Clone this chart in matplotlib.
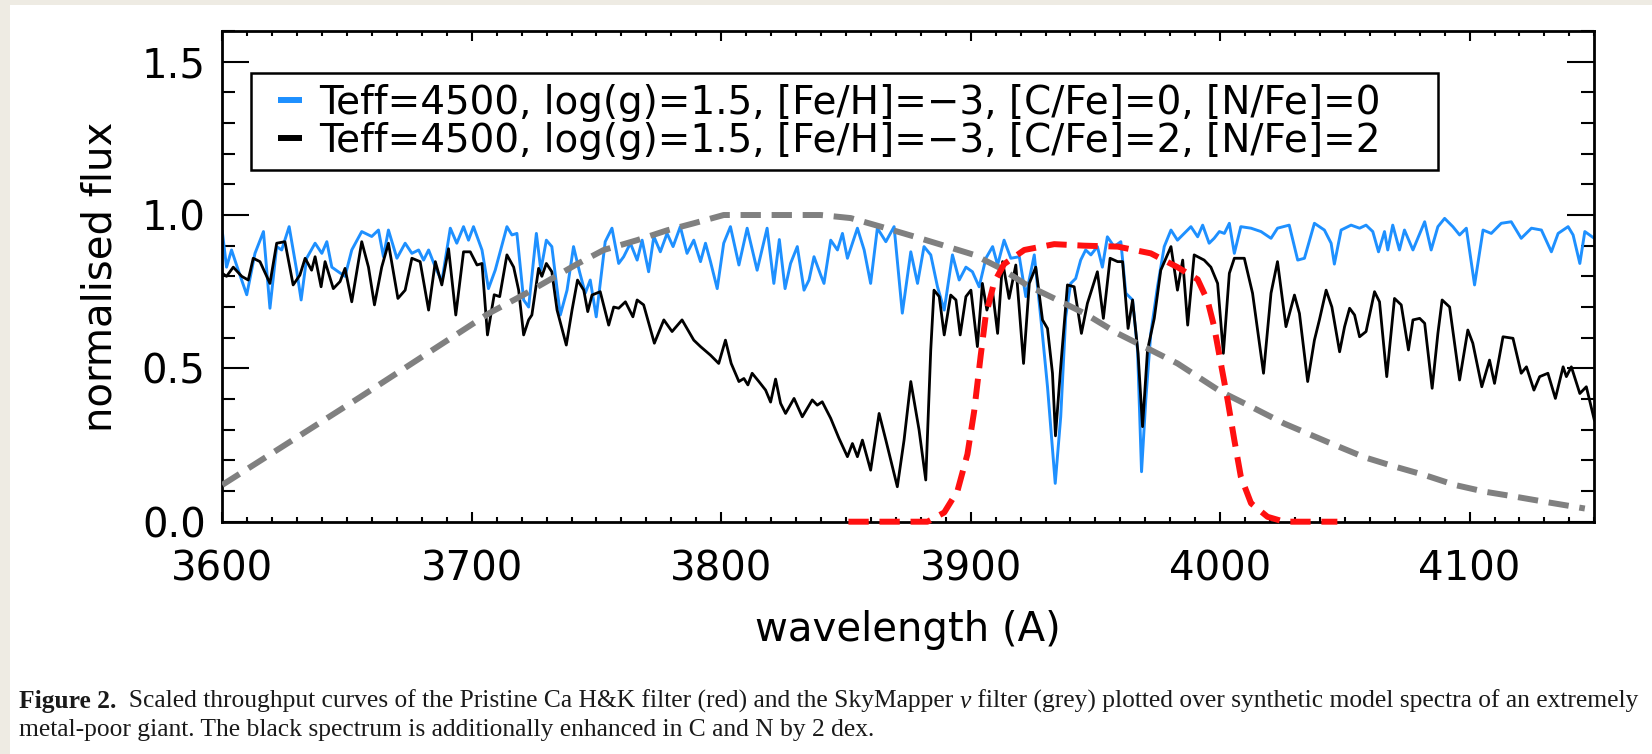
import matplotlib
matplotlib.use("Agg")
import matplotlib.pyplot as plt
from matplotlib.lines import Line2D
from matplotlib.patches import Rectangle
from matplotlib.ticker import MultipleLocator, FormatStrFormatter

# synthetic spectra: wavelength (A) and normalised flux
# blue: [C/Fe]=0, [N/Fe]=0
blue_wave = [3600.0, 3601.7, 3603.7, 3606.4, 3609.8, 3613.1, 3616.5, 3619.1, 3621.8, 3623.8,
             3626.8, 3629.8, 3631.6, 3633.8, 3637.2, 3639.9, 3641.9, 3643.9, 3646.5, 3649.2,
             3651.9, 3655.9, 3659.9, 3662.6, 3664.6, 3666.6, 3670.0, 3673.3, 3676.0, 3678.7,
             3680.7, 3682.7, 3685.4, 3688.0, 3691.4, 3694.0, 3696.7, 3698.7, 3700.7, 3704.1,
             3706.7, 3709.4, 3714.1, 3716.1, 3718.1, 3720.8, 3722.8, 3725.9, 3727.7, 3729.9,
             3732.1, 3735.5, 3738.2, 3740.8, 3743.2, 3745.5, 3747.5, 3749.9, 3751.5, 3753.5,
             3756.2, 3758.9, 3760.9, 3763.6, 3766.3, 3768.3, 3770.9, 3773.0, 3775.6, 3778.3,
             3780.7, 3783.6, 3786.3, 3789.0, 3791.7, 3793.7, 3795.7, 3798.4, 3801.0, 3803.7,
             3807.1, 3810.4, 3814.4, 3818.4, 3821.1, 3823.3, 3825.6, 3827.8, 3830.5, 3833.2,
             3835.2, 3837.2, 3839.9, 3841.2, 3843.9, 3846.6, 3848.6, 3850.6, 3854.6, 3857.3,
             3859.9, 3862.6, 3866.0, 3869.3, 3872.6, 3876.0, 3878.7, 3881.3, 3884.0, 3886.7,
             3889.4, 3892.7, 3895.4, 3898.1, 3900.7, 3903.4, 3906.1, 3908.8, 3910.8, 3913.4,
             3916.1, 3919.5, 3922.1, 3925.5, 3928.2, 3930.8, 3932.8, 3933.9, 3936.1, 3938.1,
             3940.1, 3942.1, 3944.1, 3946.1, 3948.2, 3950.8, 3952.8, 3954.8, 3957.5, 3960.2,
             3962.2, 3964.9, 3966.9, 3968.5, 3970.2, 3972.2, 3974.9, 3977.6, 3980.3, 3982.9,
             3985.6, 3988.3, 3991.0, 3993.0, 3995.6, 3997.6, 3999.7, 4001.7, 4003.7, 4005.7,
             4008.3, 4012.4, 4016.4, 4020.4, 4023.0, 4027.7, 4031.1, 4033.8, 4037.8, 4041.8,
             4044.5, 4045.8, 4048.5, 4052.5, 4055.9, 4058.5, 4061.2, 4063.5, 4065.9, 4067.2,
             4069.2, 4071.9, 4073.9, 4077.3, 4082.0, 4084.6, 4087.3, 4090.0, 4093.3, 4096.0,
             4098.7, 4102.0, 4105.4, 4108.7, 4112.7, 4116.7, 4120.7, 4124.8, 4128.8, 4132.8,
             4135.5, 4139.5, 4141.5, 4144.2, 4146.2, 4150.0]
blue_flux = [0.946, 0.83, 0.886, 0.82, 0.74, 0.875, 0.946, 0.696, 0.897, 0.886,
             0.962, 0.82, 0.723, 0.859, 0.908, 0.875, 0.913, 0.83, 0.815, 0.80,
             0.886, 0.946, 0.93, 0.951, 0.864, 0.951, 0.859, 0.908, 0.875, 0.886,
             0.853, 0.886, 0.83, 0.783, 0.957, 0.908, 0.962, 0.918, 0.962, 0.886,
             0.76, 0.82, 0.962, 0.935, 0.94, 0.723, 0.70, 0.94, 0.82, 0.918,
             0.897, 0.674, 0.755, 0.897, 0.815, 0.745, 0.788, 0.668, 0.777, 0.913,
             0.957, 0.842, 0.864, 0.908, 0.853, 0.918, 0.815, 0.93, 0.88, 0.94,
             0.897, 0.962, 0.875, 0.918, 0.848, 0.908, 0.848, 0.76, 0.908, 0.962,
             0.837, 0.957, 0.82, 0.957, 0.777, 0.92, 0.76, 0.842, 0.897, 0.755,
             0.788, 0.864, 0.804, 0.777, 0.918, 0.886, 0.94, 0.859, 0.957, 0.886,
             0.777, 0.957, 0.913, 0.962, 0.68, 0.88, 0.777, 0.897, 0.87, 0.766,
             0.69, 0.87, 0.788, 0.83, 0.815, 0.766, 0.859, 0.897, 0.837, 0.918,
             0.859, 0.864, 0.734, 0.87, 0.658, 0.44, 0.234, 0.125, 0.342, 0.668,
             0.777, 0.793, 0.853, 0.886, 0.87, 0.897, 0.83, 0.929, 0.897, 0.913,
             0.745, 0.723, 0.56, 0.163, 0.397, 0.614, 0.766, 0.897, 0.951, 0.918,
             0.94, 0.962, 0.929, 0.967, 0.908, 0.924, 0.946, 0.94, 0.973, 0.875,
             0.962, 0.957, 0.946, 0.924, 0.957, 0.967, 0.853, 0.859, 0.973, 0.951,
             0.908, 0.84, 0.951, 0.967, 0.957, 0.967, 0.946, 0.88, 0.946, 0.886,
             0.967, 0.886, 0.951, 0.886, 0.978, 0.886, 0.962, 0.989, 0.962, 0.935,
             0.957, 0.772, 0.951, 0.94, 0.973, 0.978, 0.924, 0.957, 0.951, 0.88,
             0.94, 0.962, 0.935, 0.842, 0.946, 0.924]

# black: [C/Fe]=2, [N/Fe]=2
black_wave = [3600.0, 3601.7, 3604.4, 3607.8, 3610.4, 3612.4, 3615.1, 3619.1, 3621.8, 3625.1,
              3628.4, 3631.1, 3633.2, 3635.8, 3637.2, 3639.6, 3641.2, 3644.5, 3647.2, 3649.2,
              3651.9, 3655.9, 3658.6, 3661.0, 3663.9, 3666.6, 3670.4, 3673.3, 3676.0, 3679.3,
              3682.7, 3685.4, 3688.0, 3690.7, 3693.6, 3696.7, 3699.4, 3702.1, 3704.1, 3706.3,
              3709.0, 3711.2, 3714.1, 3716.8, 3718.8, 3720.8, 3722.8, 3724.1, 3726.8, 3728.1,
              3729.9, 3732.1, 3734.2, 3737.9, 3740.2, 3742.4, 3744.9, 3746.5, 3748.2, 3751.5,
              3754.9, 3756.9, 3758.9, 3761.6, 3764.6, 3766.3, 3768.9, 3773.2, 3777.0, 3780.3,
              3784.3, 3789.0, 3791.7, 3795.7, 3799.0, 3801.7, 3804.0, 3807.1, 3809.1, 3810.7,
              3812.4, 3815.1, 3817.8, 3819.8, 3821.8, 3823.8, 3825.8, 3829.2, 3832.5, 3836.5,
              3838.5, 3840.5, 3843.9, 3847.2, 3850.6, 3852.6, 3854.6, 3856.6, 3859.9, 3863.3,
              3866.0, 3870.6, 3873.3, 3876.0, 3879.3, 3882.0, 3884.0, 3885.3, 3887.4, 3889.4,
              3892.0, 3894.1, 3895.8, 3898.1, 3900.1, 3902.7, 3904.7, 3906.5, 3908.8, 3910.8,
              3912.8, 3915.4, 3918.1, 3921.2, 3923.5, 3926.1, 3928.8, 3930.8, 3932.8, 3934.0,
              3936.1, 3938.8, 3941.5, 3944.4, 3946.8, 3950.8, 3953.2, 3955.9, 3958.9, 3960.9,
              3963.1, 3964.9, 3967.1, 3968.9, 3970.9, 3973.6, 3976.2, 3980.3, 3982.9, 3985.0,
              3987.0, 3989.6, 3993.6, 3996.3, 3999.0, 4001.3, 4003.7, 4005.7, 4009.7, 4013.0,
              4017.4, 4020.4, 4023.0, 4026.4, 4029.8, 4031.8, 4035.1, 4037.8, 4039.8, 4042.5,
              4044.8, 4047.9, 4049.9, 4051.9, 4053.9, 4055.9, 4058.5, 4061.9, 4063.9, 4066.8,
              4069.9, 4072.6, 4075.5, 4077.3, 4080.0, 4082.0, 4085.0, 4087.3, 4089.0, 4092.0,
              4096.0, 4099.3, 4101.3, 4104.9, 4108.0, 4110.0, 4113.4, 4117.4, 4120.7, 4122.8,
              4125.8, 4128.1, 4131.4, 4134.4, 4137.5, 4138.8, 4140.8, 4144.2, 4146.8, 4150.0]
black_flux = [0.81, 0.80, 0.83, 0.80, 0.788, 0.859, 0.848, 0.777, 0.908, 0.913,
              0.772, 0.804, 0.859, 0.82, 0.864, 0.766, 0.848, 0.76, 0.783, 0.826,
              0.717, 0.913, 0.83, 0.707, 0.83, 0.908, 0.728, 0.755, 0.859, 0.848,
              0.69, 0.848, 0.772, 0.89, 0.674, 0.88, 0.88, 0.837, 0.842, 0.609,
              0.74, 0.734, 0.87, 0.83, 0.755, 0.609, 0.658, 0.674, 0.826, 0.80,
              0.842, 0.815, 0.69, 0.576, 0.69, 0.788, 0.755, 0.685, 0.739, 0.75,
              0.641, 0.70, 0.696, 0.717, 0.668, 0.723, 0.707, 0.582, 0.658, 0.62,
              0.658, 0.592, 0.571, 0.543, 0.516, 0.592, 0.516, 0.457, 0.467, 0.446,
              0.484, 0.457, 0.429, 0.39, 0.465, 0.386, 0.353, 0.402, 0.342, 0.397,
              0.38, 0.391, 0.337, 0.272, 0.212, 0.255, 0.212, 0.266, 0.168, 0.353,
              0.266, 0.114, 0.266, 0.457, 0.30, 0.136, 0.56, 0.755, 0.734, 0.609,
              0.739, 0.723, 0.609, 0.734, 0.755, 0.571, 0.777, 0.69, 0.75, 0.614,
              0.848, 0.728, 0.837, 0.516, 0.777, 0.83, 0.658, 0.63, 0.484, 0.28,
              0.505, 0.772, 0.766, 0.614, 0.712, 0.815, 0.663, 0.859, 0.848, 0.848,
              0.63, 0.723, 0.549, 0.31, 0.56, 0.663, 0.82, 0.897, 0.755, 0.853,
              0.641, 0.87, 0.853, 0.83, 0.777, 0.549, 0.81, 0.859, 0.859, 0.745,
              0.484, 0.745, 0.848, 0.636, 0.739, 0.679, 0.457, 0.592, 0.658, 0.755,
              0.70, 0.554, 0.636, 0.696, 0.674, 0.603, 0.62, 0.75, 0.717, 0.473,
              0.728, 0.707, 0.56, 0.658, 0.663, 0.647, 0.435, 0.614, 0.723, 0.70,
              0.462, 0.625, 0.582, 0.44, 0.527, 0.451, 0.603, 0.598, 0.484, 0.505,
              0.429, 0.473, 0.484, 0.402, 0.505, 0.473, 0.505, 0.418, 0.44, 0.332]

# SkyMapper v filter (grey), scaled throughput
grey_wave = [3600, 3655, 3707, 3720.8, 3731.5, 3742.2, 3752.9, 3766.3, 3778.3, 3789.0,
             3801.0, 3814.4, 3839.9, 3851.9, 3864.0, 3877.3, 3889.4, 3901.4, 3912.1, 3922.8,
             3933.0, 3945.5, 3958.9, 3970.9, 3982.9, 4000.3, 4012.4, 4025.7, 4044.5, 4057.9,
             4069.9, 4082.0, 4094.0, 4106.0, 4118.0, 4130.1, 4146.2]
grey_thru = [0.12, 0.405, 0.68, 0.74, 0.79, 0.84, 0.886, 0.918, 0.95, 0.973,
             1.0, 1.0, 1.0, 0.99, 0.962, 0.93, 0.90, 0.87, 0.826, 0.77,
             0.73, 0.68, 0.614, 0.565, 0.516, 0.424, 0.375, 0.32, 0.255, 0.21,
             0.18, 0.152, 0.12, 0.098, 0.082, 0.065, 0.043]

# Pristine Ca H&K filter (red), scaled throughput
red_wave = [3851, 3882.7, 3889.4, 3894.7, 3898.7, 3901.4, 3904.0, 3906.0, 3909.4, 3913.4,
            3921.5, 3933.5, 3945.5, 3958.9, 3972.2, 3982.9, 3991.0, 3995.0, 3997.6, 4000.3,
            4003.0, 4005.7, 4008.3, 4012.4, 4019.0, 4025.7, 4047.0]
red_thru = [0.0, 0.0, 0.03, 0.10, 0.22, 0.36, 0.54, 0.67, 0.78, 0.84,
            0.886, 0.905, 0.90, 0.897, 0.875, 0.83, 0.79, 0.72, 0.636, 0.516,
            0.397, 0.266, 0.147, 0.06, 0.016, 0.0, 0.0]

legend_labels = ['Teff=4500, log(g)=1.5, [Fe/H]=\u22123, [C/Fe]=0, [N/Fe]=0',
                 'Teff=4500, log(g)=1.5, [Fe/H]=\u22123, [C/Fe]=2, [N/Fe]=2']
legend_colors = ['#1e90ff', 'black']

caption_1 = [('Figure 2.', 'normal', 'bold'),
             ('  Scaled throughput curves of the Pristine Ca H&K filter (red) and the SkyMapper ', 'normal', 'normal'),
             ('v', 'italic', 'normal'),
             (' filter (grey) plotted over synthetic model spectra of an extremely', 'normal', 'normal')]
caption_2 = 'metal-poor giant. The black spectrum is additionally enhanced in C and N by 2 dex.'

plt.rcParams['font.family'] = 'DejaVu Sans'

W, H = 1652, 754
fig = plt.figure(figsize=(W / 100, H / 100), dpi=100, facecolor='#eeebe3')
# white page with a thin cream margin on the left and top
fig.add_artist(Rectangle((10 / W, 0), 1, 1 - 5 / H, transform=fig.transFigure,
                         facecolor='white', edgecolor='none', zorder=0))

ax = fig.add_axes([222.3 / W, 1 - 521.7 / H, 1372 / W, 490.7 / H])

ax.plot(blue_wave, blue_flux, color=legend_colors[0], lw=2.1, zorder=2)
ax.plot(black_wave, black_flux, color=legend_colors[1], lw=2.0, zorder=3)
ax.plot(grey_wave, grey_thru, color='#808080', lw=4.3, dashes=(3.4, 1.8), zorder=4)
ax.plot(red_wave, red_thru, color='#ff1010', lw=4.3, dashes=(3.4, 1.8), zorder=5, clip_on=False)

ax.set_xlim(3600, 4150)
ax.set_ylim(0, 1.6)
ax.xaxis.set_major_locator(MultipleLocator(100))
ax.xaxis.set_minor_locator(MultipleLocator(10))
ax.yaxis.set_major_locator(MultipleLocator(0.5))
ax.yaxis.set_minor_locator(MultipleLocator(0.1))
ax.yaxis.set_major_formatter(FormatStrFormatter('%.1f'))

ax.tick_params(which='both', direction='in', top=True, right=True, width=1.5, labelsize=29)
ax.tick_params(axis='x', which='major', length=7, pad=20)
ax.tick_params(axis='x', which='minor', length=3.6)
ax.tick_params(axis='y', which='major', length=19.5, pad=12)
ax.tick_params(axis='y', which='minor', length=9.5)
for s in ax.spines.values():
    s.set_linewidth(2)

ax.set_xlabel('wavelength (A)', fontsize=29)
ax.xaxis.set_label_coords(0.5, -0.2207)
ax.xaxis.label.set_va('center')
ax.set_ylabel('normalised flux', fontsize=29)
ax.yaxis.set_label_coords(-0.089, 0.5)
ax.yaxis.label.set_va('center')

handles = [Line2D([], [], color=c, marker='_', ls='none', markersize=17, markeredgewidth=4.3)
           for c in legend_colors]
leg = ax.legend(handles, legend_labels, loc='upper left',
                bbox_to_anchor=(0.0207, 0.5, 0.8651, 0.4138), mode='expand',
                borderaxespad=0, fontsize=28, borderpad=0.27, labelspacing=0.0,
                handlelength=1.5, handletextpad=0.0, fancybox=False,
                edgecolor='black', framealpha=1)
leg.get_frame().set_linewidth(1.8)
leg.set_zorder(6)

# caption, written piece by piece so the bold and italic parts sit on one line
cap_kw = dict(fontsize=18.4, family='Liberation Serif', color='#1a1a1a')
txt, style, weight = caption_1[0]
prev = fig.text(19 / W, 1 - 713 / H, txt, style=style, weight=weight, va='bottom', **cap_kw)
for txt, style, weight in caption_1[1:]:
    prev = ax.annotate(txt, xy=(1, 0), xycoords=prev, va='bottom', ha='left',
                       style=style, weight=weight, annotation_clip=False, **cap_kw)
fig.text(19 / W, 1 - 741 / H, caption_2, va='bottom', **cap_kw)

fig.savefig('out.png', dpi=100, facecolor=fig.get_facecolor())
